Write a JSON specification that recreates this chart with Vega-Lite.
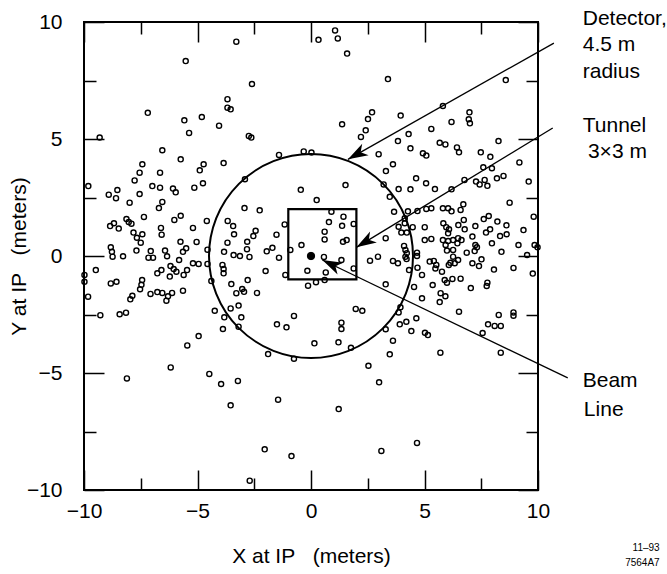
{
  "$schema": "https://vega.github.io/schema/vega-lite/v6.json",
  "width": 454,
  "height": 468,
  "autosize": {"type": "none"},
  "padding": {"left": 84, "top": 22, "right": 129, "bottom": 84},
  "background": "white",
  "config": {
    "font": "Liberation Sans",
    "view": {"stroke": "black", "strokeWidth": 2},
    "axis": {"domain": false, "grid": false, "tickColor": "black", "tickWidth": 1.5, "labelColor": "black", "titleColor": "black", "labelFont": "Liberation Sans", "titleFont": "Liberation Sans", "labelFontSize": 21, "titleFontSize": 21, "titleFontWeight": "normal", "labelFlush": false, "labelOverlap": false}
  },
  "datasets": {
    "pts": [
      {"x":-3.29,"y":9.16},{"x":-5.52,"y":8.33},{"x":-3.68,"y":6.70},{"x":-3.68,"y":6.34},{"x":-3.54,"y":6.27},{"x":-7.19,"y":6.12},{"x":-4.81,"y":5.94},{"x":-5.58,"y":5.80},{"x":-4.05,"y":5.57},{"x":-5.37,"y":5.26},{"x":-9.31,"y":5.06},
      {"x":0.33,"y":9.24},{"x":1.06,"y":9.64},{"x":1.18,"y":9.30},{"x":1.59,"y":8.65},{"x":-2.60,"y":7.35},{"x":3.39,"y":7.56},{"x":2.69,"y":6.14},{"x":2.51,"y":5.85},{"x":1.37,"y":5.63},{"x":-2.74,"y":5.13},{"x":-2.63,"y":5.06},{"x":2.41,"y":5.37},{"x":2.20,"y":5.09},
      {"x":8.58,"y":7.52},{"x":5.81,"y":6.41},{"x":3.95,"y":6.00},{"x":6.98,"y":6.14},{"x":6.95,"y":5.84},{"x":7.00,"y":5.67},{"x":6.19,"y":5.73},{"x":5.30,"y":5.43},{"x":4.30,"y":5.21},{"x":3.83,"y":4.91},{"x":5.67,"y":4.84},{"x":5.92,"y":4.77},{"x":8.26,"y":4.91},
      {"x":-6.55,"y":4.52},{"x":-5.74,"y":4.13},{"x":-7.43,"y":3.92},{"x":-7.55,"y":3.56},{"x":-6.65,"y":3.56},{"x":-7.77,"y":3.23},{"x":-4.73,"y":3.92},{"x":-4.90,"y":3.66},{"x":-3.85,"y":3.97},{"x":-4.76,"y":3.11},{"x":-5.14,"y":2.92},{"x":-9.81,"y":2.99},{"x":-6.99,"y":2.99},{"x":-6.65,"y":2.92},{"x":-6.08,"y":2.88},{"x":-5.96,"y":2.72},{"x":-8.53,"y":2.82},{"x":-8.91,"y":2.62},{"x":-8.59,"y":2.47},{"x":-7.55,"y":2.65},{"x":-7.99,"y":2.28},{"x":-6.55,"y":2.31},{"x":-6.70,"y":2.05},{"x":-7.36,"y":1.67},{"x":-8.13,"y":1.58},{"x":-8.03,"y":1.45},{"x":-7.91,"y":1.38},{"x":-8.85,"y":1.28},{"x":-8.68,"y":1.40},{"x":-8.47,"y":1.17},{"x":-6.02,"y":1.54},{"x":-5.74,"y":1.72},{"x":-4.59,"y":1.50},{"x":-3.67,"y":1.50},{"x":-3.43,"y":1.28},{"x":-5.20,"y":1.20},{"x":-6.61,"y":1.20},{"x":-6.58,"y":0.91},{"x":-7.82,"y":1.00},{"x":-7.43,"y":0.93},{"x":-7.67,"y":0.78},{"x":-7.50,"y":0.57},{"x":-3.39,"y":0.93},{"x":-5.75,"y":0.61},{"x":-5.50,"y":0.33},{"x":-5.64,"y":0.18},{"x":-5.04,"y":0.60},{"x":-3.68,"y":0.57},{"x":-8.82,"y":0.37},{"x":-8.77,"y":0.18},{"x":-8.74,"y":-0.03},{"x":-8.28,"y":-0.01},{"x":-7.69,"y":0.23},{"x":-7.06,"y":0.21},{"x":-7.16,"y":-0.07},{"x":-6.96,"y":-0.07},{"x":-6.43,"y":0.23},{"x":-6.34,"y":-0.01},{"x":-4.56,"y":0.27},{"x":-3.83,"y":0.18},{"x":-3.41,"y":0.04},{"x":-5.81,"y":-0.17},
      {"x":-5.20,"y":-0.31},{"x":-4.95,"y":-0.34},{"x":-4.56,"y":-0.34},{"x":-9.48,"y":-0.60},{"x":-9.98,"y":-0.81},{"x":-9.98,"y":-1.10},{"x":-6.19,"y":-0.43},{"x":-6.05,"y":-0.56},{"x":-5.93,"y":-0.67},{"x":-6.22,"y":-0.88},{"x":-5.61,"y":-0.81},{"x":-5.46,"y":-0.60},{"x":-6.59,"y":-0.60},{"x":-6.77,"y":-0.74},{"x":-7.44,"y":-1.03},{"x":-7.47,"y":-1.23},{"x":-7.53,"y":-1.42},{"x":-8.82,"y":-1.17},{"x":-8.57,"y":-1.10},{"x":-9.82,"y":-1.74},{"x":-7.87,"y":-1.70},{"x":-7.96,"y":-1.85},{"x":-7.07,"y":-1.62},{"x":-6.77,"y":-1.54},{"x":-6.55,"y":-1.58},{"x":-6.12,"y":-1.58},{"x":-6.30,"y":-1.72},{"x":-6.37,"y":-1.91},{"x":-5.64,"y":-1.48},{"x":-4.39,"y":-1.07},{"x":-3.90,"y":-0.38},{"x":-3.85,"y":-0.56},{"x":-3.85,"y":-0.74},{"x":-3.51,"y":-1.20},{"x":-3.29,"y":-1.59},{"x":-3.19,"y":-2.12},{"x":-3.54,"y":-2.24},{"x":-4.24,"y":-2.34},{"x":-3.82,"y":-2.62},{"x":-3.88,"y":-3.12},{"x":-9.28,"y":-2.53},{"x":-8.43,"y":-2.49},{"x":-8.15,"y":-2.42},{"x":-4.95,"y":-3.42},{"x":-5.45,"y":-3.82},{"x":-6.18,"y":-4.76},{"x":-4.48,"y":-5.04},
      {"x":-8.11,"y":-5.23},{"x":-3.96,"y":-5.47},{"x":-3.22,"y":-5.34},{"x":-3.54,"y":-6.38},
      {"x":-1.45,"y":-6.14},{"x":3.00,"y":-5.40},{"x":1.22,"y":-6.54},{"x":-2.04,"y":-8.26},{"x":-0.86,"y":-8.55},{"x":3.10,"y":-8.33},{"x":-2.70,"y":-9.60},{"x":4.67,"y":-7.99},
      {"x":-1.41,"y":4.32},{"x":-0.32,"y":4.47},{"x":0.02,"y":4.42},{"x":2.98,"y":4.35},{"x":3.61,"y":3.92},{"x":3.30,"y":3.63},{"x":3.20,"y":3.06},{"x":3.47,"y":2.53},{"x":-2.91,"y":3.28},{"x":1.52,"y":3.03},{"x":-0.45,"y":2.83},{"x":0.25,"y":2.39},{"x":-2.93,"y":2.05},{"x":-2.26,"y":1.95},{"x":0.90,"y":1.89},{"x":1.43,"y":1.68},{"x":0.79,"y":1.45},{"x":1.37,"y":1.29},{"x":1.88,"y":1.37},{"x":-1.16,"y":1.35},{"x":0.60,"y":1.04},{"x":0.60,"y":0.71},{"x":1.41,"y":0.61},{"x":1.57,"y":0.68},{"x":3.66,"y":1.89},{"x":3.29,"y":0.76},{"x":-2.44,"y":1.08},{"x":-2.54,"y":0.85},{"x":-1.52,"y":0.91},{"x":-2.81,"y":0.61},{"x":-2.82,"y":0.29},{"x":-1.70,"y":0.35},{"x":-1.95,"y":0.20},{"x":-0.91,"y":0.26},{"x":-0.42,"y":0.47},{"x":-3.13,"y":0.00},{"x":-2.71,"y":-0.04},{"x":-1.41,"y":-0.07},{"x":0.57,"y":-0.04},{"x":1.34,"y":-0.17},
      {"x":-2.00,"y":-0.64},{"x":-0.16,"y":-0.63},{"x":-1.13,"y":-0.81},{"x":0.65,"y":-0.70},{"x":1.88,"y":-0.53},{"x":2.60,"y":-0.20},{"x":2.95,"y":-0.03},{"x":3.61,"y":-0.21},{"x":-0.13,"y":-1.27},{"x":0.22,"y":-1.12},{"x":0.60,"y":-1.03},{"x":-2.79,"y":-1.03},{"x":-3.03,"y":-1.41},{"x":-2.95,"y":-1.53},{"x":-2.38,"y":-1.58},{"x":3.29,"y":-1.21},{"x":-3.07,"y":-2.62},{"x":-3.19,"y":-3.02},{"x":-0.75,"y":-2.56},{"x":-1.50,"y":-2.92},{"x":-1.08,"y":-3.05},{"x":1.97,"y":-2.26},{"x":2.26,"y":-2.34},{"x":1.34,"y":-2.85},{"x":1.34,"y":-3.12},{"x":3.29,"y":-3.13},{"x":0.15,"y":-3.73},{"x":1.21,"y":-3.69},{"x":1.76,"y":-3.92},{"x":3.61,"y":-3.62},{"x":3.47,"y":-4.20},{"x":-1.89,"y":-4.19},{"x":-0.75,"y":-4.39},{"x":2.53,"y":-4.69},
      {"x":3.83,"y":-0.31},{"x":5.23,"y":-0.24},{"x":5.41,"y":-0.21},{"x":5.52,"y":-0.38},{"x":5.48,"y":-0.53},{"x":5.77,"y":-0.67},{"x":6.07,"y":-0.38},{"x":6.14,"y":-0.29},{"x":6.33,"y":-0.31},{"x":6.48,"y":-0.17},{"x":6.26,"y":-0.03},{"x":7.11,"y":-0.31},{"x":7.40,"y":-0.43},{"x":7.51,"y":-0.14},{"x":8.06,"y":-0.58},{"x":8.92,"y":-0.51},{"x":9.77,"y":-0.75},{"x":4.32,"y":-0.60},{"x":4.69,"y":-0.50},{"x":4.89,"y":-0.81},{"x":4.54,"y":-1.32},{"x":5.36,"y":-1.24},{"x":5.89,"y":-1.03},{"x":5.99,"y":-1.14},{"x":6.23,"y":-0.98},{"x":6.59,"y":-0.97},{"x":7.04,"y":-1.37},{"x":7.77,"y":-1.14},{"x":7.74,"y":-1.28},{"x":5.71,"y":-1.59},{"x":5.92,"y":-1.72},{"x":5.67,"y":-1.97},{"x":4.89,"y":-1.81},{"x":3.94,"y":-2.19},{"x":3.86,"y":-2.41},{"x":6.52,"y":-2.38},{"x":4.64,"y":-2.66},{"x":3.91,"y":-2.92},{"x":4.20,"y":-2.81},{"x":4.42,"y":-3.21},{"x":5.02,"y":-3.28},{"x":5.15,"y":-3.38},{"x":5.70,"y":-4.13},{"x":8.27,"y":-2.52},{"x":8.92,"y":-2.41},{"x":8.92,"y":-2.55},{"x":7.80,"y":-2.92},{"x":8.09,"y":-2.99},{"x":8.36,"y":-2.99},{"x":7.56,"y":-3.29},{"x":8.36,"y":-4.13},{"x":4.21,"y":-0.13},
      {"x":4.38,"y":4.60},{"x":6.43,"y":4.64},{"x":6.52,"y":4.43},{"x":4.93,"y":4.39},{"x":5.08,"y":4.29},{"x":7.48,"y":4.43},{"x":7.90,"y":4.24},{"x":9.18,"y":4.00},{"x":7.59,"y":3.79},{"x":7.97,"y":3.75},{"x":4.63,"y":3.32},{"x":5.07,"y":3.11},{"x":6.76,"y":3.25},{"x":7.27,"y":3.18},{"x":7.43,"y":3.06},{"x":7.65,"y":3.25},{"x":7.77,"y":3.00},{"x":8.19,"y":3.32},{"x":8.48,"y":3.42},{"x":9.59,"y":3.18},{"x":3.86,"y":2.86},{"x":4.38,"y":2.85},{"x":5.46,"y":2.86},{"x":6.19,"y":2.85},{"x":8.75,"y":2.28},{"x":6.71,"y":2.21},{"x":6.59,"y":1.97},{"x":5.81,"y":2.04},{"x":6.04,"y":2.04},{"x":6.19,"y":1.91},{"x":5.08,"y":2.01},{"x":5.30,"y":2.04},{"x":4.69,"y":1.92},{"x":4.27,"y":1.91},{"x":4.13,"y":1.61},{"x":4.13,"y":1.40},{"x":4.48,"y":1.23},{"x":3.86,"y":1.25},{"x":3.98,"y":1.00},{"x":4.22,"y":1.00},{"x":5.01,"y":1.23},{"x":5.83,"y":1.40},{"x":5.96,"y":1.23},{"x":6.08,"y":1.14},{"x":6.04,"y":0.97},{"x":6.73,"y":1.54},{"x":6.49,"y":1.32},{"x":6.77,"y":1.14},{"x":7.24,"y":1.28},{"x":7.61,"y":1.58},{"x":7.83,"y":1.71},{"x":8.21,"y":1.47},{"x":8.61,"y":1.31},{"x":7.71,"y":1.00},{"x":7.89,"y":1.14},{"x":8.33,"y":0.85},{"x":8.62,"y":0.93},{"x":9.36,"y":1.11},{"x":9.81,"y":1.68},{"x":7.11,"y":0.83},{"x":5.01,"y":0.68},{"x":5.30,"y":0.73},{"x":5.81,"y":0.68},{"x":6.04,"y":0.64},{"x":6.26,"y":0.68},{"x":6.48,"y":0.76},{"x":6.63,"y":0.68},{"x":6.45,"y":0.54},{"x":5.93,"y":0.47},{"x":5.99,"y":0.23},{"x":6.26,"y":0.26},{"x":6.86,"y":0.14},{"x":7.24,"y":0.47},{"x":7.31,"y":0.37},{"x":7.21,"y":0.21},{"x":7.97,"y":0.54},{"x":8.39,"y":0.18},{"x":9.14,"y":0.47},{"x":9.52,"y":0.04},{"x":9.85,"y":0.47},{"x":9.98,"y":0.37},{"x":4.10,"y":0.43},{"x":4.16,"y":0.26},{"x":4.22,"y":0.12},{"x":4.16,"y":-0.03},{"x":4.67,"y":0.14},{"x":4.67,"y":0.00}
    ],
    "beam": [{"x": 0, "y": 0}],
    "tunnel": [{"x": -1, "x2": 2, "y": -1, "y2": 2}],
    "arrows": [
      {"label": "Detector", "x": 10.7, "y": 9.1, "tx": 1.63, "ty": 4.13},
      {"label": "Tunnel", "x": 10.65, "y": 5.47, "tx": 2.0, "ty": 0.37},
      {"label": "Beam", "x": 11.31, "y": -5.21, "tx": 0.5, "ty": -0.17}
    ],
    "notes": [
      {"text": "Detector,", "x": 11.97, "y": 10.13},
      {"text": "4.5 m", "x": 11.97, "y": 9.02},
      {"text": "radius", "x": 11.97, "y": 7.86},
      {"text": "Tunnel", "x": 11.97, "y": 5.56},
      {"text": "3×3 m", "x": 12.2, "y": 4.44},
      {"text": "Beam", "x": 11.97, "y": -5.34},
      {"text": "Line", "x": 12.02, "y": -6.58}
    ],
    "stamp": [
      {"text": "11–93", "x": 15.36, "y": -12.48},
      {"text": "7564A7", "x": 15.36, "y": -13.12}
    ]
  },
  "layer": [
    {
      "data": {"name": "pts"},
      "mark": {"type": "point", "shape": "circle", "filled": false, "stroke": "black", "strokeWidth": 1.4, "size": 26, "opacity": 1},
      "encoding": {
        "x": {"field": "x", "type": "quantitative", "scale": {"domain": [-10, 10], "nice": false, "zero": false},
              "axis": {"orient": "bottom", "values": [-10, -5, 0, 5, 10], "tickSize": -20, "labelPadding": 30, "title": "X at IP\u00a0\u00a0\u00a0(meters)", "titlePadding": 24}},
        "y": {"field": "y", "type": "quantitative", "scale": {"domain": [-10, 10], "nice": false, "zero": false},
              "axis": {"orient": "left", "values": [-10, -5, 0, 5, 10], "tickSize": -20, "labelPadding": 42, "title": "Y at IP\u00a0\u00a0\u00a0(meters)", "titlePadding": -3}}
      }
    },
    {
      "data": {"name": "tunnel"},
      "mark": {"type": "rect", "fill": null, "fillOpacity": 0, "stroke": "black", "strokeWidth": 2.2},
      "encoding": {
        "x": {"field": "x", "type": "quantitative", "axis": {"orient": "bottom", "values": [-7.5, -2.5, 2.5, 7.5], "tickSize": -12, "labels": false, "title": null}},
        "x2": {"field": "x2"},
        "y": {"field": "y", "type": "quantitative", "axis": {"orient": "left", "values": [-7.5, -2.5, 2.5, 7.5], "tickSize": -12, "labels": false, "title": null}},
        "y2": {"field": "y2"}
      }
    },
    {
      "data": {"name": "beam"},
      "mark": {"type": "point", "shape": "circle", "filled": false, "stroke": "black", "strokeWidth": 2, "size": 41616, "opacity": 1},
      "encoding": {
        "x": {"field": "x", "type": "quantitative", "axis": {"orient": "top", "values": [-10, -5, 0, 5, 10], "tickSize": -20, "labels": false, "title": null}},
        "y": {"field": "y", "type": "quantitative", "axis": {"orient": "right", "values": [-10, -5, 0, 5, 10], "tickSize": -20, "labels": false, "title": null}}
      }
    },
    {
      "data": {"name": "beam"},
      "mark": {"type": "point", "shape": "circle", "filled": true, "fill": "black", "stroke": "black", "strokeWidth": 1, "size": 55, "opacity": 1},
      "encoding": {
        "x": {"field": "x", "type": "quantitative", "axis": {"orient": "top", "values": [-7.5, -2.5, 2.5, 7.5], "tickSize": -12, "labels": false, "title": null}},
        "y": {"field": "y", "type": "quantitative", "axis": {"orient": "right", "values": [-7.5, -2.5, 2.5, 7.5], "tickSize": -12, "labels": false, "title": null}}
      }
    },
    {
      "data": {"name": "arrows"},
      "mark": {"type": "rule", "stroke": "black", "strokeWidth": 1.3},
      "encoding": {
        "x": {"field": "x", "type": "quantitative", "axis": null},
        "y": {"field": "y", "type": "quantitative", "axis": null},
        "x2": {"field": "tx"},
        "y2": {"field": "ty"}
      }
    },
    {
      "data": {"name": "arrows"},
      "transform": [{"filter": "datum.label == 'Detector'"}],
      "mark": {"type": "point", "shape": "M0,0 L-2,-0.65 L-1.45,0 L-2,0.65 Z", "filled": true, "fill": "black", "stroke": null, "size": 400, "angle": 150.5, "opacity": 1},
      "encoding": {
        "x": {"field": "tx", "type": "quantitative", "axis": null},
        "y": {"field": "ty", "type": "quantitative", "axis": null}
      }
    },
    {
      "data": {"name": "arrows"},
      "transform": [{"filter": "datum.label == 'Tunnel'"}],
      "mark": {"type": "point", "shape": "M0,0 L-2,-0.65 L-1.45,0 L-2,0.65 Z", "filled": true, "fill": "black", "stroke": null, "size": 400, "angle": 148.7, "opacity": 1},
      "encoding": {
        "x": {"field": "tx", "type": "quantitative", "axis": null},
        "y": {"field": "ty", "type": "quantitative", "axis": null}
      }
    },
    {
      "data": {"name": "arrows"},
      "transform": [{"filter": "datum.label == 'Beam'"}],
      "mark": {"type": "point", "shape": "M0,0 L-2,-0.65 L-1.45,0 L-2,0.65 Z", "filled": true, "fill": "black", "stroke": null, "size": 400, "angle": 205.6, "opacity": 1},
      "encoding": {
        "x": {"field": "tx", "type": "quantitative", "axis": null},
        "y": {"field": "ty", "type": "quantitative", "axis": null}
      }
    },
    {
      "data": {"name": "notes"},
      "mark": {"type": "text", "align": "left", "baseline": "middle", "fontSize": 21, "font": "Liberation Sans", "color": "black"},
      "encoding": {
        "x": {"field": "x", "type": "quantitative", "axis": null},
        "y": {"field": "y", "type": "quantitative", "axis": null},
        "text": {"field": "text"}
      }
    },
    {
      "data": {"name": "stamp"},
      "mark": {"type": "text", "align": "right", "baseline": "middle", "fontSize": 10, "font": "Liberation Sans", "color": "black"},
      "encoding": {
        "x": {"field": "x", "type": "quantitative", "axis": null},
        "y": {"field": "y", "type": "quantitative", "axis": null},
        "text": {"field": "text"}
      }
    }
  ],
  "resolve": {"axis": {"x": "independent", "y": "independent"}}
}
